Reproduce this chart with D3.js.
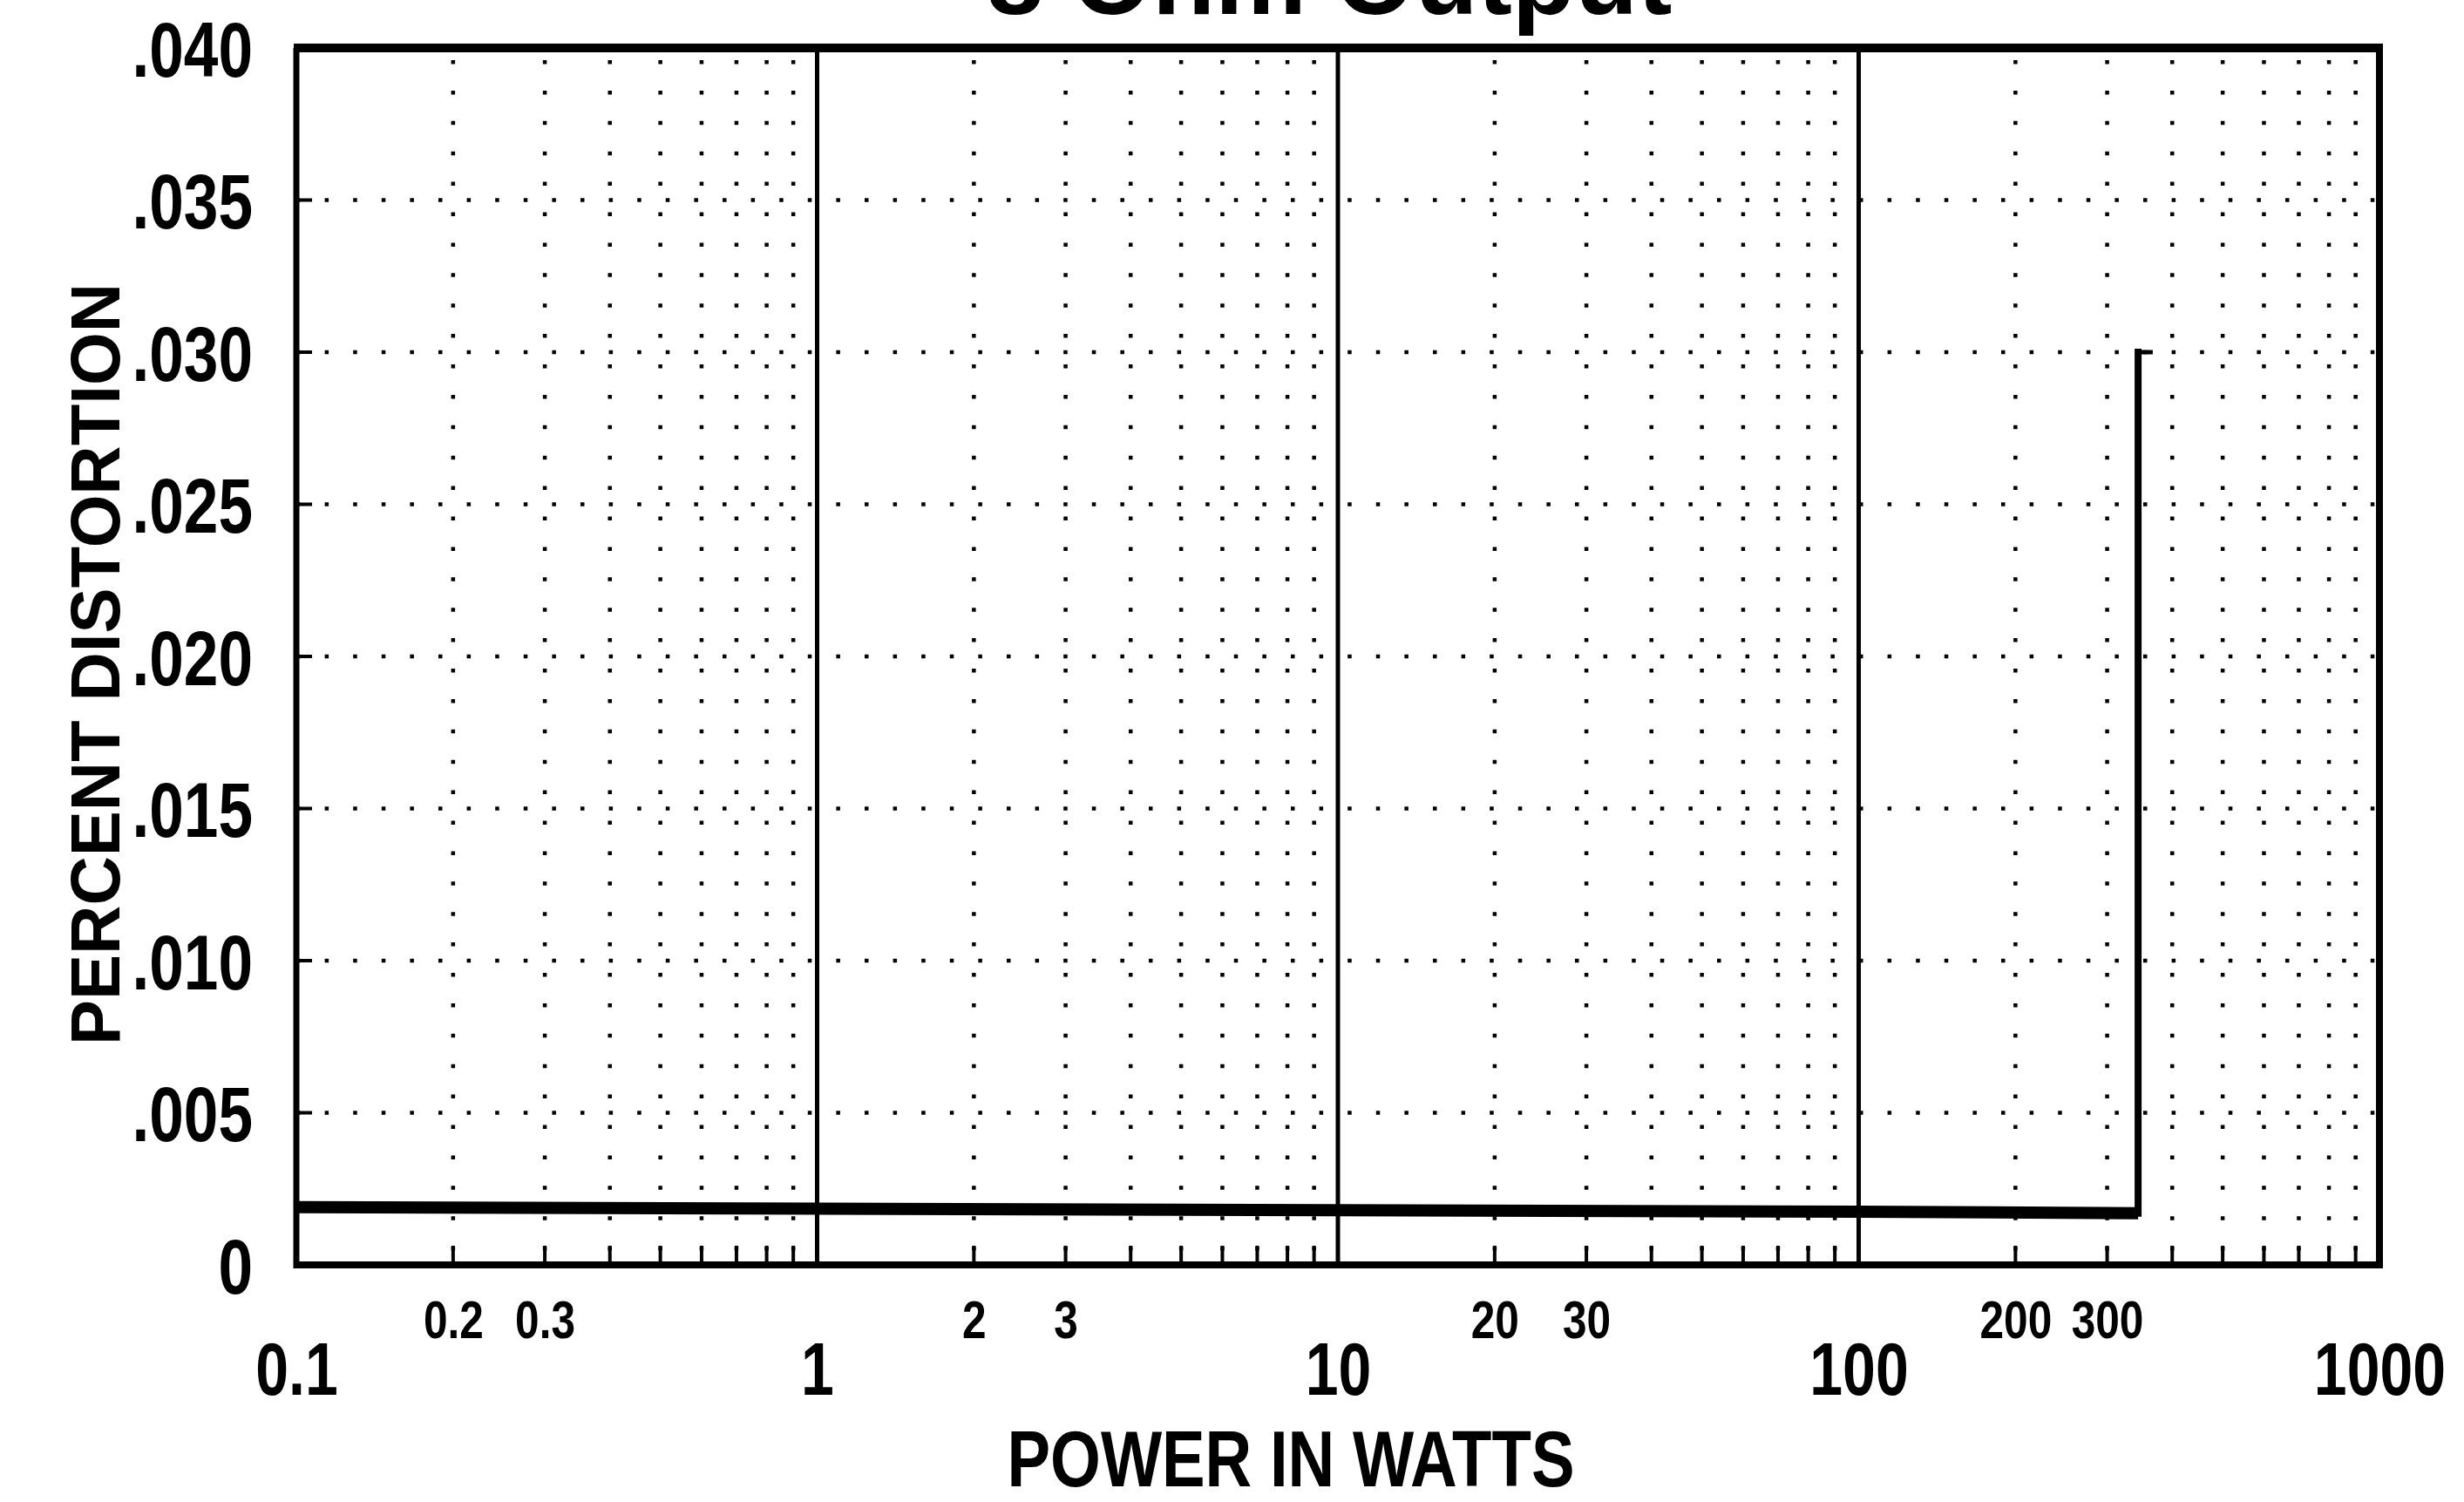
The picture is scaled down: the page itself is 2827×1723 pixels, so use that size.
<!DOCTYPE html>
<html>
<head>
<meta charset="utf-8">
<script src="https://cdn.jsdelivr.net/npm/d3@7"></script>
<style>
  html, body { margin: 0; padding: 0; background: #fff; }
  svg { display: block; }
  text { font-family: "Liberation Sans", Arial, Helvetica, sans-serif; font-weight: bold; fill: #000; }
</style>
</head>
<body>
<svg id="chart" width="2827" height="1723"></svg>
<script>
// ---- data ----
const titleText = "8 Ohm Output";
const xTitle = "POWER IN WATTS";
const yTitle = "PERCENT DISTORTION";
const xDomain = [0.1, 1000];
const yDomain = [0, 0.040];
const xMajorTicks = [0.1, 1, 10, 100, 1000];
const xMajorLabels = ["0.1", "1", "10", "100", "1000"];
const xMinorLabeledTicks = [0.2, 0.3, 2, 3, 20, 30, 200, 300];
const xMinorLabels = ["0.2", "0.3", "2", "3", "20", "30", "200", "300"];
const yTicks = [0, 0.005, 0.010, 0.015, 0.020, 0.025, 0.030, 0.035, 0.040];
const yLabels = ["0", ".005", ".010", ".015", ".020", ".025", ".030", ".035", ".040"];
// THD+N curve: flat low-power segment, then clipping rise
const curvePower = [0.1, 1, 10, 100, 344, 344, 367];
const curveDist  = [0.0019, 0.00185, 0.0018, 0.00175, 0.0017, 0.030, 0.030];

// ---- layout ----
const L = 340, R = 2730, T = 55, B = 1451;
const svg = d3.select("#chart");
const x = d3.scaleLog().domain(xDomain).range([L, R]);
const y = d3.scaleLinear().domain(yDomain).range([B, T]);

// minor grid positions (2..9 of each decade)
const minorX = [];
for (let d = 0.1; d < 1000; d *= 10) {
  for (let k = 2; k <= 9; k++) minorX.push(+(d * k).toPrecision(3));
}

const g = svg.append("g");

// vertical dotted grid
const step = y(0) - y(0.001);
g.selectAll("line.vgrid").data(minorX).join("line")
  .attr("x1", d => x(d)).attr("x2", d => x(d))
  .attr("y1", y(0.040)).attr("y2", y(0))
  .attr("stroke", "#000").attr("stroke-width", 4.5)
  .attr("stroke-dasharray", `4.5 ${step - 4.5}`)
  .attr("stroke-dashoffset", -14);

// horizontal dotted grid
g.selectAll("line.hgrid").data(yTicks.filter(v => v > 0 && v < 0.04)).join("line")
  .attr("x1", L).attr("x2", R)
  .attr("y1", d => y(d)).attr("y2", d => y(d))
  .attr("stroke", "#000").attr("stroke-width", 4.5)
  .attr("stroke-dasharray", "4.5 28.1");

// small inward ticks on left for y majors
g.selectAll("line.ytick").data(yTicks.filter(v => v > 0 && v < 0.04)).join("line")
  .attr("x1", L).attr("x2", L + 18)
  .attr("y1", d => y(d)).attr("y2", d => y(d))
  .attr("stroke", "#000").attr("stroke-width", 4);

// minor ticks on bottom
g.selectAll("line.xminortick").data(minorX).join("line")
  .attr("x1", d => x(d)).attr("x2", d => x(d))
  .attr("y1", y(0)).attr("y2", y(0) - 22)
  .attr("stroke", "#000").attr("stroke-width", 4);

// decade lines
g.selectAll("line.decade").data(xMajorTicks.slice(1, -1)).join("line")
  .attr("x1", d => x(d)).attr("x2", d => x(d))
  .attr("y1", y(0.040)).attr("y2", y(0))
  .attr("stroke", "#000").attr("stroke-width", 5);

// frame
g.append("line").attr("x1", L - 3).attr("x2", R + 4).attr("y1", T).attr("y2", T)
  .attr("stroke", "#000").attr("stroke-width", 10);
g.append("line").attr("x1", L - 3).attr("x2", R + 4).attr("y1", B).attr("y2", B)
  .attr("stroke", "#000").attr("stroke-width", 8);
g.append("line").attr("x1", L).attr("x2", L).attr("y1", T).attr("y2", B + 4)
  .attr("stroke", "#000").attr("stroke-width", 7);
g.append("line").attr("x1", R).attr("x2", R).attr("y1", T).attr("y2", B + 4)
  .attr("stroke", "#000").attr("stroke-width", 8);

// curve
const pts = curvePower.map((p, i) => [p, curveDist[i]]);
const line = d3.line().x(d => x(d[0])).y(d => y(d[1]));
g.append("path").datum(pts.slice(0, 5)).attr("d", line)
  .attr("fill", "none").attr("stroke", "#000").attr("stroke-width", 14)
  .attr("stroke-linejoin", "miter").attr("stroke-linecap", "butt");
g.append("path").datum(pts.slice(4, 6)).attr("d", line)
  .attr("fill", "none").attr("stroke", "#000").attr("stroke-width", 8)
  .attr("stroke-linecap", "square");
g.append("path").datum(pts.slice(5, 7)).attr("d", line)
  .attr("fill", "none").attr("stroke", "#000").attr("stroke-width", 5);

// axes (labels only)
const yAxis = svg.append("g").attr("transform", `translate(${L},0)`)
  .call(d3.axisLeft(y).tickValues(yTicks).tickFormat((d, i) => yLabels[i]).tickSize(0).tickPadding(50));
yAxis.select(".domain").remove();
yAxis.selectAll("text").attr("font-size", 89).attr("dy", "0.36em")
  .style("font-family", '"Liberation Sans", Arial, sans-serif').style("font-weight", "bold");

const xAxisMajor = svg.append("g").attr("transform", `translate(0,${B})`)
  .call(d3.axisBottom(x).tickValues(xMajorTicks).tickFormat((d, i) => xMajorLabels[i]).tickSize(0).tickPadding(89));
xAxisMajor.select(".domain").remove();
xAxisMajor.selectAll("text").attr("font-size", 85)
  .style("font-family", '"Liberation Sans", Arial, sans-serif').style("font-weight", "bold");

const xAxisMinor = svg.append("g").attr("transform", `translate(0,${B})`)
  .call(d3.axisBottom(x).tickValues(xMinorLabeledTicks).tickFormat((d, i) => xMinorLabels[i]).tickSize(0).tickPadding(40));
xAxisMinor.select(".domain").remove();
xAxisMinor.selectAll("text").attr("font-size", 62)
  .style("font-family", '"Liberation Sans", Arial, sans-serif').style("font-weight", "bold");

// condense tick labels horizontally
svg.selectAll(".tick text").each(function () {
  const w = this.getComputedTextLength();
  this.setAttribute("textLength", w * 0.8);
  this.setAttribute("lengthAdjust", "spacingAndGlyphs");
});

// titles
svg.append("text").attr("x", 1525).attr("y", 16).attr("text-anchor", "middle")
  .attr("font-size", 118).text(titleText);

svg.append("text").attr("x", 1481).attr("y", 1705).attr("text-anchor", "middle")
  .attr("font-size", 90).attr("textLength", 651).attr("lengthAdjust", "spacingAndGlyphs")
  .text(xTitle);

svg.append("text").attr("transform", `translate(137,762) rotate(-90)`)
  .attr("text-anchor", "middle").attr("font-size", 80)
  .attr("textLength", 874).attr("lengthAdjust", "spacingAndGlyphs")
  .text(yTitle);
</script>
</body>
</html>
